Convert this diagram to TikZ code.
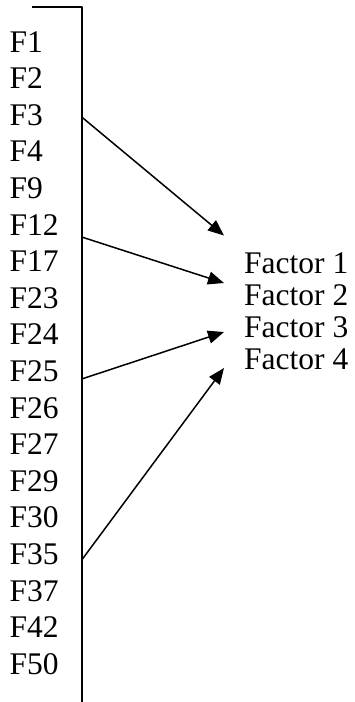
\documentclass[tikz,border=0pt]{standalone}
\usepackage{fontspec}
\setmainfont{Liberation Serif}
\usetikzlibrary{arrows.meta}
\begin{document}
\begin{tikzpicture}[x=1pt, y=-1pt, line join=round, >={Triangle[length=16pt,width=13pt]},
	lab/.style={anchor=base west, inner sep=0pt, font=\fontsize{31.5}{33}\selectfont}]
			\useasboundingbox (0,0) rectangle (355,702);
			\def\ax{81.7}\def\fstep{36.6}
			% axis
			\coordinate (top) at (32,7.3);
			\coordinate (corner) at (\ax,7.3);
			\coordinate (bot) at (\ax,702);
			\draw[line width=2pt] (top)--(corner)--(bot);
			% items
			\foreach \lab [count=\i] in {1,2,3,4,9,12,17,23,24,25,26,27,29,30,35,37,42,50}
				\node[lab] (F\lab) at (9.3,{52+(\i-1)*\fstep}) {F\lab};
			% factors
			\foreach \k in {1,...,4}
				\node[lab] (fac\k) at (244,{273+(\k-1)*32.3}) {Factor \k};
			\coordinate (s3) at (\ax,117);
			\coordinate (s12) at (\ax,237);
			\coordinate (s25) at (\ax,379);
			\coordinate (s35) at (\ax,560);
			\coordinate (t1) at (224,235.5);
			\coordinate (t2) at (224,283);
			\coordinate (t3) at (224,332);
			\coordinate (t4) at (224,368);
			\draw[->, line width=1.5pt] (s3)--(t1);
			\draw[->, line width=1.5pt] (s12)--(t2);
			\draw[->, line width=1.5pt] (s25)--(t3);
			\draw[->, line width=1.5pt] (s35)--(t4);
	\end{tikzpicture}
\end{document}
